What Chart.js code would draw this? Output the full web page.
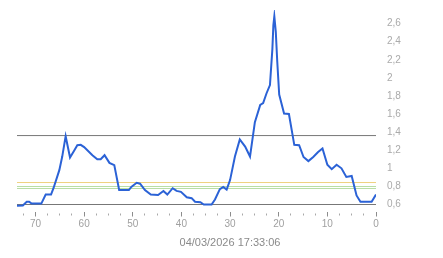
<!DOCTYPE html>
<html><head><meta charset="utf-8">
<script src="https://cdn.jsdelivr.net/npm/chart.js@4/dist/chart.umd.min.js"></script>
<style>html,body{margin:0;padding:0;background:#fff;}#wrap{width:443px;height:258px;}</style>
</head><body><div id="wrap"><canvas id="c" width="443" height="258"></canvas></div>
<script>
// minutes ago (x) and measured values (y)
const minutesAgo = [73.8,72.6,71.8,71.3,70.8,68.8,67.9,66.8,66.3,65.1,64.5,63.8,62.9,62.0,61.4,60.7,60.0,58.3,57.3,56.6,55.8,54.8,53.8,52.8,50.8,50.3,49.2,48.5,47.5,46.3,44.8,43.7,42.9,41.8,41.0,40.1,38.9,37.9,37.2,36.1,35.4,33.8,33.1,32.1,31.4,30.7,30.0,29.0,28.0,26.9,25.9,24.9,23.8,23.2,22.5,21.8,21.3,21.1,20.9,20.6,20.3,19.9,18.9,17.9,16.8,15.8,14.9,13.9,12.9,11.9,11.0,10.0,9.1,8.1,7.1,6.1,5.0,4.0,3.2,0.9,0.0];
const values = [0.585,0.59,0.63,0.63,0.61,0.61,0.71,0.71,0.78,0.98,1.13,1.355,1.12,1.2,1.255,1.26,1.235,1.145,1.10,1.10,1.145,1.06,1.035,0.76,0.76,0.795,0.84,0.83,0.76,0.71,0.705,0.75,0.71,0.78,0.75,0.74,0.68,0.67,0.63,0.625,0.60,0.60,0.655,0.77,0.795,0.765,0.87,1.13,1.32,1.24,1.13,1.51,1.70,1.72,1.83,1.92,2.32,2.58,2.68,2.51,2.18,1.815,1.605,1.60,1.26,1.255,1.125,1.08,1.125,1.18,1.22,1.04,0.99,1.04,1.0,0.905,0.915,0.70,0.63,0.63,0.71];
// reference levels
const refLevels = [1.362, 0.6, 0.843, 0.799, 0.777];
const refColors = ['#777777','#777777','#efd27f','#b9dea5','#b9dea5'];
const xTicks = [0,2.5,5,7.5,10,12.5,15,17.5,20,22.5,25,27.5,30,32.5,35,37.5,40,42.5,45,47.5,50,52.5,55,57.5,60,62.5,65,67.5,70,72.5];
const xLabelTicks = [0,10,20,30,40,50,60,70];
const yTicks = [0.6,0.8,1.0,1.2,1.4,1.6,1.8,2.0,2.2,2.4,2.6];
const yTickLabels = ['0,6','0,8','1','1,2','1,4','1,6','1,8','2','2,2','2,4','2,6'];
const titleText = '04/03/2026 17:33:06';

const X_MIN = 0, X_MAX = 73.8;
const datasets = [{
  data: minutesAgo.map((x,i)=>({x:x,y:values[i]})),
  borderColor:'#2b62d6', borderWidth:2, pointRadius:0, tension:0, fill:false
}];
refLevels.forEach((v,i)=>{
  datasets.push({data:[{x:X_MIN,y:v},{x:X_MAX,y:v}], borderColor:refColors[i], borderWidth:1, pointRadius:0, fill:false});
});
const FONT = "'Liberation Sans', Arial, sans-serif";
new Chart(document.getElementById('c'), {
  type:'line',
  data:{datasets:datasets},
  options:{
    responsive:false, animation:false, devicePixelRatio:1,
    layout:{padding:{left:17, right:0, top:10, bottom:0}},
    plugins:{legend:{display:false}, tooltip:{enabled:false},
      title:{display:true, position:'bottom', text:titleText, color:'#8a8a8a',
        font:{family:FONT, size:11, weight:'normal'}, padding:{top:4,bottom:8.7}}},
    scales:{
      x:{type:'linear', reverse:true, min:X_MIN, max:X_MAX,
        border:{display:false},
        grid:{display:true, drawOnChartArea:false, drawTicks:true, tickLength:5,
          tickColor:(ctx)=> xLabelTicks.includes(ctx.tick && ctx.tick.value) ? '#8c8c8c' : '#a8a8a8',
          tickBorderDash:(ctx)=> xLabelTicks.includes(ctx.tick && ctx.tick.value) ? [] : [0,1.5,2,10]},
        afterBuildTicks:(s)=>{ s.ticks = xTicks.map(v=>({value:v})); },
        ticks:{autoSkip:false, maxRotation:0, padding:1.8, color:'#a0a0a0',
          font:{family:FONT, size:10},
          callback:(v)=> xLabelTicks.includes(v) ? String(v) : ''}
      },
      y:{type:'linear', position:'right', min:0.5227, max:2.75,
        border:{display:false}, grid:{display:false},
        afterBuildTicks:(s)=>{ s.ticks = yTicks.map(v=>({value:v})); },
        afterFit:(s)=>{ s.width = 67; },
        ticks:{padding:3, color:'#aaaaaa', font:{family:FONT, size:10},
          callback:(v,i)=> yTickLabels[i]}
      }
    }
  }
});
</script></body></html>
